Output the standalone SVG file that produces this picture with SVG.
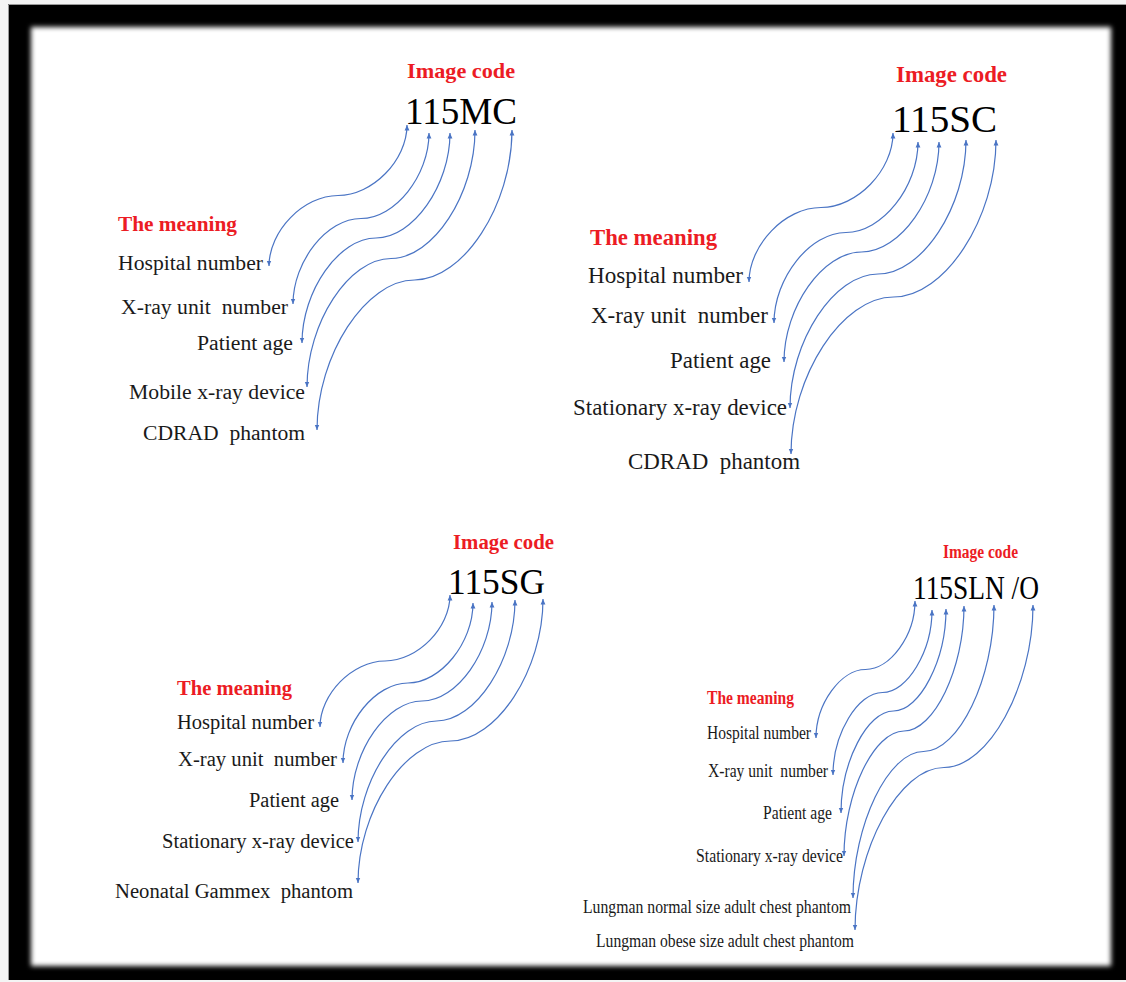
<svg xmlns="http://www.w3.org/2000/svg" width="1126" height="982" viewBox="0 0 1126 982">
  <defs>
    <style>
      .lbl { font-family: "Liberation Serif", "Times New Roman", serif; fill: #1a1a1a; white-space: pre; }
      .code { font-family: "Liberation Serif", "Times New Roman", serif; fill: #000; white-space: pre; }
      .head { font-family: "Liberation Serif", "Times New Roman", serif; font-weight: bold; fill: #ec1c24; white-space: pre; }
      .link { fill: none; stroke: #4a74c4; stroke-width: 1.2; marker-start: url(#tip); marker-end: url(#tip); }
    </style>
    <marker id="tip" viewBox="0 0 6 6" refX="6" refY="3" markerWidth="5.5" markerHeight="5.5" markerUnits="userSpaceOnUse" orient="auto-start-reverse">
      <path d="M0,0.4 L6,3 L0,5.6 z" fill="#4a74c4"/>
    </marker>
    <filter id="soft" x="-5%" y="-5%" width="110%" height="110%">
      <feGaussianBlur stdDeviation="2.6"/>
    </filter>
  </defs>

  <!-- framed sheet -->
  <rect x="0" y="0" width="1126" height="982" fill="#f4f4f4"/>
  <rect x="8" y="4" width="1118" height="976" fill="#000"/>
  <path d="M8.5,980 V4.5 H1126" fill="none" stroke="#9a9a9a" stroke-width="1"/>
  <rect x="31" y="27" width="1080" height="939" fill="#fff" filter="url(#soft)"/>

  <!-- code letters linked to their meanings -->
  <g id="connectors">
    <!-- 115MC -->
    <path class="link" d="M407,125 C407,160.3 372.5,195.5 338,195.5 C303.5,195.5 269,230.8 269,266"/>
    <path class="link" d="M429,133 C429,175.8 395,218.5 361,218.5 C327,218.5 293,261.3 293,304"/>
    <path class="link" d="M450,133 C450,185.5 413,238 376,238 C339,238 302,290.5 302,343"/>
    <path class="link" d="M475,130 C475,194.3 433,258.5 391,258.5 C349,258.5 307,322.8 307,387"/>
    <path class="link" d="M512,130 C512,205 463.3,280 414.5,280 C365.8,280 317,355 317,430"/>
    <!-- 115SC -->
    <path class="link" d="M893,133 C893,170.3 857,207.5 821,207.5 C785,207.5 749,244.8 749,282"/>
    <path class="link" d="M918,142 C918,187.3 882,232.5 846,232.5 C810,232.5 774,277.8 774,323"/>
    <path class="link" d="M939,142 C939,197 900.3,252 861.5,252 C822.8,252 784,307 784,362"/>
    <path class="link" d="M966,140 C966,207 922,274 878,274 C834,274 790,341 790,408"/>
    <path class="link" d="M996,140 C996,218.5 944.8,297 893.5,297 C842.3,297 791,375.5 791,454"/>
    <!-- 115SG -->
    <path class="link" d="M450,595 C450,628 417.5,661 385,661 C352.5,661 320,694 320,727"/>
    <path class="link" d="M473,603 C473,643 440.5,683 408,683 C375.5,683 343,723 343,763"/>
    <path class="link" d="M492,602 C492,651.5 457,701 422,701 C387,701 352,750.5 352,800"/>
    <path class="link" d="M515,600 C515,660.5 475.8,721 436.5,721 C397.3,721 358,781.5 358,842"/>
    <path class="link" d="M543,599 C543,670 496.8,741 450.5,741 C404.3,741 358,812 358,883"/>
    <!-- 115SLN /O -->
    <path class="link" d="M915,601 C915,635.3 890.3,669.5 865.5,669.5 C840.8,669.5 816,703.8 816,738"/>
    <path class="link" d="M932,610 C932,651.3 907.3,692.5 882.5,692.5 C857.8,692.5 833,733.8 833,775"/>
    <path class="link" d="M946,609 C946,660 919.8,711 893.5,711 C867.3,711 841,762 841,813"/>
    <path class="link" d="M964,606 C964,668.5 934,731 904,731 C874,731 844,793.5 844,856"/>
    <path class="link" d="M994,605 C994,678.3 958.8,751.5 923.5,751.5 C888.3,751.5 853,824.8 853,898"/>
    <path class="link" d="M1033,605 C1033,686.3 988.5,767.5 944,767.5 C899.5,767.5 855,848.8 855,930"/>
  </g>

  <!-- panel: mobile unit, CDRAD -->
  <g id="code-115MC">
    <text class="head" x="407" y="78" font-size="22" textLength="108" lengthAdjust="spacingAndGlyphs">Image code</text>
    <text class="code" x="405" y="124" font-size="37" textLength="112" lengthAdjust="spacingAndGlyphs">115MC</text>
  </g>
  <g id="meaning-115MC">
    <text class="head" x="118" y="231" font-size="21.3" textLength="119" lengthAdjust="spacingAndGlyphs">The meaning</text>
    <text class="lbl" x="118" y="270" font-size="21.6" textLength="145" lengthAdjust="spacingAndGlyphs">Hospital number</text>
    <text class="lbl" x="121" y="314" font-size="21.6" textLength="167" lengthAdjust="spacingAndGlyphs">X-ray unit  number</text>
    <text class="lbl" x="197" y="350" font-size="21.6" textLength="96" lengthAdjust="spacingAndGlyphs">Patient age</text>
    <text class="lbl" x="129" y="399" font-size="21.6" textLength="176" lengthAdjust="spacingAndGlyphs">Mobile x-ray device</text>
    <text class="lbl" x="143" y="440" font-size="21.6" textLength="162" lengthAdjust="spacingAndGlyphs">CDRAD  phantom</text>
  </g>

  <!-- panel: stationary unit, CDRAD -->
  <g id="code-115SC">
    <text class="head" x="896" y="82" font-size="22.8" textLength="111" lengthAdjust="spacingAndGlyphs">Image code</text>
    <text class="code" x="892" y="132" font-size="38" textLength="105" lengthAdjust="spacingAndGlyphs">115SC</text>
  </g>
  <g id="meaning-115SC">
    <text class="head" x="590" y="245" font-size="22.7" textLength="127" lengthAdjust="spacingAndGlyphs">The meaning</text>
    <text class="lbl" x="588" y="283" font-size="23" textLength="155" lengthAdjust="spacingAndGlyphs">Hospital number</text>
    <text class="lbl" x="591" y="323" font-size="23" textLength="177" lengthAdjust="spacingAndGlyphs">X-ray unit  number</text>
    <text class="lbl" x="670" y="368" font-size="23" textLength="101" lengthAdjust="spacingAndGlyphs">Patient age</text>
    <text class="lbl" x="573" y="415" font-size="23" textLength="214" lengthAdjust="spacingAndGlyphs">Stationary x-ray device</text>
    <text class="lbl" x="628" y="469" font-size="23" textLength="172" lengthAdjust="spacingAndGlyphs">CDRAD  phantom</text>
  </g>

  <!-- panel: stationary unit, neonatal Gammex -->
  <g id="code-115SG">
    <text class="head" x="453" y="549" font-size="20.8" textLength="101" lengthAdjust="spacingAndGlyphs">Image code</text>
    <text class="code" x="448" y="594" font-size="35" textLength="97" lengthAdjust="spacingAndGlyphs">115SG</text>
  </g>
  <g id="meaning-115SG">
    <text class="head" x="177" y="695" font-size="20.6" textLength="115" lengthAdjust="spacingAndGlyphs">The meaning</text>
    <text class="lbl" x="177" y="729" font-size="20.5" textLength="137" lengthAdjust="spacingAndGlyphs">Hospital number</text>
    <text class="lbl" x="178" y="766" font-size="20.5" textLength="159" lengthAdjust="spacingAndGlyphs">X-ray unit  number</text>
    <text class="lbl" x="249" y="807" font-size="20.5" textLength="90" lengthAdjust="spacingAndGlyphs">Patient age</text>
    <text class="lbl" x="162" y="848" font-size="20.5" textLength="192" lengthAdjust="spacingAndGlyphs">Stationary x-ray device</text>
    <text class="lbl" x="115" y="898" font-size="20.5" textLength="238" lengthAdjust="spacingAndGlyphs">Neonatal Gammex  phantom</text>
  </g>

  <!-- panel: stationary unit, Lungman normal / obese -->
  <g id="code-115SLN-O">
    <text class="head" x="943" y="558" font-size="18.5" textLength="75" lengthAdjust="spacingAndGlyphs">Image code</text>
    <text class="code" x="913" y="599" font-size="33" textLength="126" lengthAdjust="spacingAndGlyphs">115SLN /O</text>
  </g>
  <g id="meaning-115SLN-O">
    <text class="head" x="707" y="704" font-size="19" textLength="87" lengthAdjust="spacingAndGlyphs">The meaning</text>
    <text class="lbl" x="707" y="739" font-size="18.5" textLength="104" lengthAdjust="spacingAndGlyphs">Hospital number</text>
    <text class="lbl" x="708" y="777" font-size="18.5" textLength="120" lengthAdjust="spacingAndGlyphs">X-ray unit  number</text>
    <text class="lbl" x="763" y="819" font-size="18.5" textLength="69" lengthAdjust="spacingAndGlyphs">Patient age</text>
    <text class="lbl" x="696" y="862" font-size="18.5" textLength="147" lengthAdjust="spacingAndGlyphs">Stationary x-ray device</text>
    <text class="lbl" x="583" y="913" font-size="18.5" textLength="268" lengthAdjust="spacingAndGlyphs">Lungman normal size adult chest phantom</text>
    <text class="lbl" x="596" y="947" font-size="18.5" textLength="258" lengthAdjust="spacingAndGlyphs">Lungman obese size adult chest phantom</text>
  </g>
</svg>
